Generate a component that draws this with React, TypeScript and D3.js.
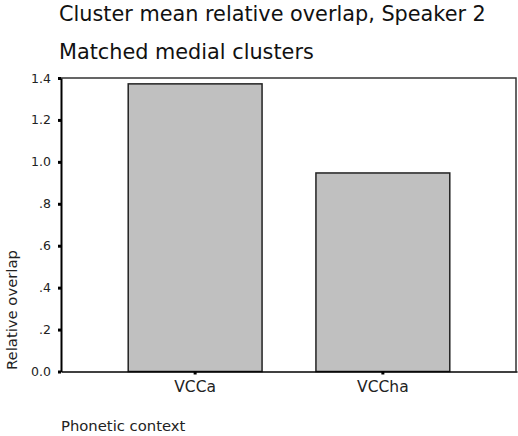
import * as d3 from 'd3';
import { useEffect, useRef } from 'react';

const categories = ['VCCa', 'VCCha'];
const meanOverlap = [1.372, 0.947];
const yTickValues = [0, 0.2, 0.4, 0.6, 0.8, 1.0, 1.2, 1.4];
const yTickLabels = ['0.0', '.2', '.4', '.6', '.8', '1.0', '1.2', '1.4'];

const titleLines = ['Cluster mean relative overlap, Speaker 2', 'Matched medial clusters'];
const yTitle = 'Relative overlap';
const xTitle = 'Phonetic context';

const FONT = "'DejaVu Sans', sans-serif";

export default function App() {
  const ref = useRef<SVGSVGElement | null>(null);

  useEffect(() => {
    const svg = d3.select(ref.current);
    svg.selectAll('*').remove();

    const margin = { top: 78, right: 1, bottom: 64.5, left: 61 };
    const width = 518, height = 436;

    const x = d3.scaleBand()
      .domain(categories)
      .range([margin.left, width - margin.right])
      .paddingInner(0.287)
      .paddingOuter(0.358);
    const y = d3.scaleLinear().domain([0, 1.4]).range([height - margin.bottom, margin.top]);

    // frame (top + right)
    svg.append('path')
      .attr('d', `M${margin.left},${y(1.4)}H${width - margin.right - 1}V${y(0)}`)
      .attr('fill', 'none')
      .attr('stroke', '#333')
      .attr('stroke-width', 1.5);

    // bars
    svg.selectAll('.bar')
      .data(categories)
      .enter().append('rect')
      .attr('class', 'bar')
      .attr('x', d => x(d)!)
      .attr('y', (d, i) => y(meanOverlap[i]))
      .attr('width', x.bandwidth())
      .attr('height', (d, i) => y(0) - y(meanOverlap[i]))
      .attr('fill', '#c0c0c0')
      .attr('stroke', '#222')
      .attr('stroke-width', 1.5);

    // y axis
    const gy = svg.append('g')
      .attr('transform', `translate(${margin.left},0)`)
      .call(d3.axisLeft(y)
        .tickValues(yTickValues)
        .tickFormat((d, i) => yTickLabels[i])
        .tickSize(3)
        .tickSizeOuter(0)
        .tickPadding(7));
    gy.select('.domain').attr('stroke', '#000').attr('stroke-width', 2);
    gy.selectAll('.tick line').attr('stroke', '#000').attr('stroke-width', 3);
    gy.selectAll('.tick text').attr('font-family', FONT).attr('font-size', 12.5).attr('fill', '#222');

    // x axis
    const gx = svg.append('g')
      .attr('transform', `translate(0,${y(0)})`)
      .call(d3.axisBottom(x).tickSize(3).tickSizeOuter(0).tickPadding(6));
    gx.select('.domain').attr('stroke', '#000').attr('stroke-width', 1.5);
    gx.selectAll('.tick line').attr('stroke', '#000').attr('stroke-width', 3);
    gx.selectAll('.tick text').attr('font-family', FONT).attr('font-size', 15.5).attr('fill', '#222');

    // titles
    svg.selectAll('.title')
      .data(titleLines)
      .enter().append('text')
      .attr('class', 'title')
      .attr('x', 59)
      .attr('y', (d, i) => 21 + i * 38)
      .attr('font-family', FONT)
      .attr('font-size', 20.8)
      .attr('fill', '#111')
      .text(d => d);

    svg.append('text')
      .attr('transform', `translate(17,${y(0) - 1.5}) rotate(-90)`)
      .attr('font-family', FONT)
      .attr('font-size', 14.8)
      .attr('fill', '#222')
      .text(yTitle);

    svg.append('text')
      .attr('x', 61)
      .attr('y', 431)
      .attr('font-family', FONT)
      .attr('font-size', 14.8)
      .attr('fill', '#222')
      .text(xTitle);
  }, []);

  return (
    <svg ref={ref} width={518} height={436}
      style={{ position: 'absolute', left: 0, top: 0, background: '#fff' }} />
  );
}
